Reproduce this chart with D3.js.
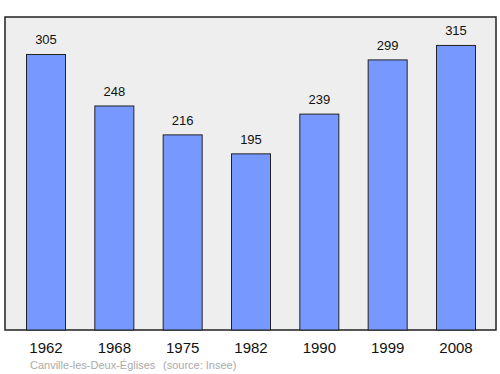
<!DOCTYPE html>
<html><head><meta charset="utf-8">
<script src="https://cdn.jsdelivr.net/npm/d3@7"></script>
<style>body{margin:0;background:#fff}svg{display:block}</style>
</head><body>
<script>
const years = ["1962","1968","1975","1982","1990","1999","2008"];
const population = [305,248,216,195,239,299,315];
const footerName = "Canville-les-Deux-Églises";
const footerSource = "(source: Insee)";

const W = 500, H = 374;
const svg = d3.select("body").append("svg").attr("width", W).attr("height", H);
const pLeft = 5, pRight = 496, pTop = 17, pBottom = 330;

svg.append("rect").attr("x", pLeft).attr("y", pTop).attr("width", pRight-pLeft).attr("height", pBottom-pTop)
  .attr("fill", "#eeeeee").attr("stroke", "#222").attr("stroke-width", 1.5);

const x = d3.scalePoint().domain(years).range([46, 456]);
const y = d3.scaleLinear().domain([0, d3.max(population)*1.1]).range([pBottom, pTop]);
const bw = 39;

svg.selectAll("rect.bar").data(population).enter().append("rect").attr("class","bar")
  .attr("x", (d,i) => x(years[i]) - bw/2)
  .attr("y", d => y(d))
  .attr("width", bw)
  .attr("height", d => pBottom - y(d))
  .attr("fill", "#7799ff").attr("stroke", "#222").attr("stroke-width", 1);

svg.selectAll("text.val").data(population).enter().append("text").attr("class","val")
  .attr("x", (d,i) => x(years[i]))
  .attr("y", d => y(d) - 10)
  .attr("text-anchor", "middle")
  .attr("font-family", "Liberation Sans, Arial, sans-serif").attr("font-size", 13).attr("fill", "#111")
  .text(d => d);

svg.selectAll("text.yr").data(years).enter().append("text").attr("class","yr")
  .attr("x", d => x(d)).attr("y", 353)
  .attr("text-anchor", "middle")
  .attr("font-family", "Liberation Sans, Arial, sans-serif").attr("font-size", 15).attr("fill", "#111")
  .text(d => d);

svg.append("text").attr("x", 30).attr("y", 369)
  .attr("font-family", "Liberation Sans, Arial, sans-serif").attr("font-size", 11).attr("fill", "#aaa")
  .text(footerName);
svg.append("text").attr("x", 163).attr("y", 369)
  .attr("font-family", "Liberation Sans, Arial, sans-serif").attr("font-size", 11).attr("fill", "#aaa")
  .text(footerSource);
</script>
</body></html>
